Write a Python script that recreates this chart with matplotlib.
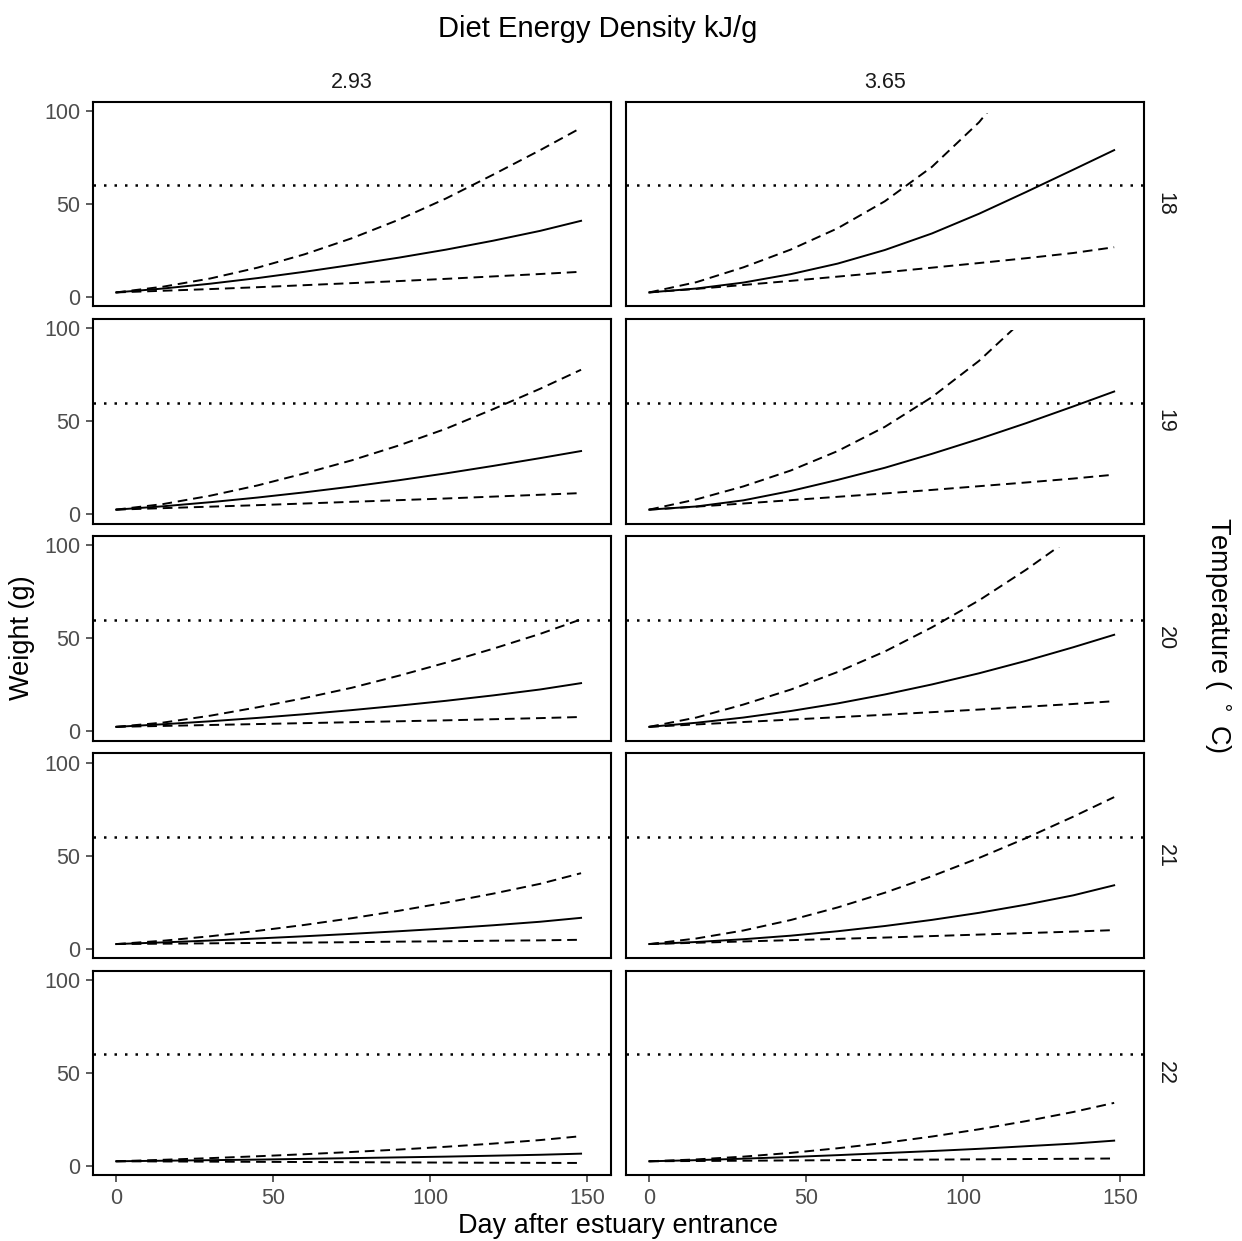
import matplotlib
matplotlib.use("Agg")
import matplotlib.pyplot as plt
from matplotlib.patches import Rectangle

plt.rcParams['font.family'] = ['Liberation Sans', 'DejaVu Sans']

# ---- data ----
days = [0, 15, 30, 45, 60, 75, 90, 105, 120, 135, 148]
temps = [18, 19, 20, 21, 22]
diets = ["2.93", "3.65"]
threshold = 60

# one list per temperature (18..22), diet 2.93 kJ/g
mid_293 = [
    [2.5, 4.6, 7.2, 10.2, 13.6, 17.3, 21.2, 25.5, 30.3, 35.6, 41.0],
    [2.5, 4.3, 6.5, 9.0, 11.8, 14.9, 18.3, 22.0, 26.0, 30.2, 34.0],
    [2.5, 3.9, 5.5, 7.3, 9.3, 11.5, 13.9, 16.5, 19.4, 22.6, 26.0],
    [2.5, 3.4, 4.4, 5.5, 6.7, 8.0, 9.4, 10.9, 12.6, 14.5, 16.6],
    [2.5, 2.8, 3.1, 3.4, 3.8, 4.2, 4.6, 5.0, 5.5, 6.0, 6.6],
]
hi_293 = [
    [2.5, 5.6, 10.0, 15.8, 23.0, 31.6, 41.6, 53.0, 65.8, 79.0, 91.0],
    [2.5, 5.5, 10.0, 15.5, 22.0, 29.0, 37.0, 46.0, 56.5, 67.5, 77.7],
    [2.5, 4.8, 8.5, 13.0, 18.0, 23.5, 30.0, 37.0, 44.5, 52.5, 60.3],
    [2.5, 4.3, 6.7, 9.6, 12.8, 16.4, 20.4, 24.8, 29.6, 34.9, 40.6],
    [2.5, 3.3, 4.2, 5.2, 6.3, 7.5, 8.8, 10.3, 12.0, 13.9, 16.0],
]
lo_293 = [
    [2.5, 3.4, 4.3, 5.3, 6.4, 7.5, 8.6, 9.8, 11.1, 12.4, 13.6],
    [2.5, 3.3, 4.1, 4.9, 5.8, 6.7, 7.6, 8.5, 9.5, 10.5, 11.4],
    [2.5, 3.0, 3.5, 4.0, 4.5, 5.0, 5.5, 6.0, 6.6, 7.2, 7.8],
    [2.5, 2.7, 2.9, 3.1, 3.3, 3.5, 3.8, 4.0, 4.3, 4.5, 4.8],
    [2.5, 2.4, 2.3, 2.2, 2.1, 2.0, 1.9, 1.8, 1.7, 1.65, 1.6],
]

# diet 3.65 kJ/g
mid_365 = [
    [2.5, 4.6, 7.8, 12.3, 18.0, 25.3, 34.2, 44.8, 56.5, 68.5, 79.0],
    [2.5, 4.2, 7.5, 12.5, 18.5, 25.0, 32.5, 40.5, 49.0, 58.0, 66.0],
    [2.5, 4.7, 7.5, 11.0, 15.1, 19.9, 25.3, 31.3, 38.0, 45.3, 52.0],
    [2.5, 3.6, 5.1, 7.0, 9.4, 12.2, 15.5, 19.3, 23.7, 28.7, 34.1],
    [2.5, 3.1, 3.9, 4.8, 5.8, 6.9, 8.0, 9.2, 10.6, 12.0, 13.6],
]
hi_365 = [
    [2.5, 8.0, 16.0, 25.5, 37.0, 51.5, 70.0, 94.0, 125.0, 156.0, 188.0],
    [2.5, 8.0, 15.0, 23.5, 34.0, 47.0, 63.0, 82.5, 106.0, 133.0, 160.0],
    [2.5, 7.5, 14.5, 22.5, 32.0, 43.0, 56.0, 70.5, 87.0, 105.0, 122.0],
    [2.5, 5.5, 9.8, 15.4, 22.2, 30.1, 39.0, 48.8, 59.5, 71.0, 81.5],
    [2.5, 3.5, 5.0, 7.0, 9.5, 12.4, 15.8, 19.7, 24.1, 29.0, 33.9],
]
lo_365 = [
    [2.5, 4.4, 6.5, 8.7, 11.0, 13.3, 15.8, 18.3, 20.9, 23.7, 26.8],
    [2.5, 4.1, 5.8, 7.6, 9.4, 11.2, 13.1, 15.1, 17.1, 19.2, 21.3],
    [2.5, 3.8, 5.1, 6.4, 7.7, 9.0, 10.4, 11.8, 13.3, 14.8, 16.3],
    [2.5, 3.2, 3.9, 4.6, 5.3, 6.0, 6.8, 7.6, 8.4, 9.2, 10.0],
    [2.5, 2.65, 2.8, 2.95, 3.1, 3.25, 3.4, 3.55, 3.7, 3.85, 4.0],
]

mid = [mid_293, mid_365]
hi = [hi_293, hi_365]
lo = [lo_293, lo_365]

# ---- figure ----
fig, axes = plt.subplots(5, 2, figsize=(12.42, 12.41), dpi=100,
                         sharex=True, sharey=True)
fig.subplots_adjust(left=0.0745, right=0.9211, top=0.918, bottom=0.053,
                    wspace=0.0284, hspace=0.0616)

lw = 1.4
dash = (0, (5, 3))
dots = (0, (1, 3.2))

for r, t in enumerate(temps):
    for c, d in enumerate(diets):
        ax = axes[r, c]
        ax.axhline(threshold, color='black', lw=1.8, linestyle=dots)
        ax.plot(days, mid[c][r], color='black', lw=lw)
        # values above 100 g are dropped in the original, so clip there
        clip = Rectangle((-10, -10), 180, 109, transform=ax.transData)
        for series in (hi[c][r], lo[c][r]):
            ln, = ax.plot(days, series, color='black', lw=lw, linestyle=dash)
            ln.set_clip_path(clip)

        ax.set_xlim(-7.5, 157.5)
        ax.set_ylim(-5, 105)
        ax.set_xticks([0, 50, 100, 150])
        ax.set_yticks([0, 50, 100])
        for s in ax.spines.values():
            s.set_linewidth(1.5)
            s.set_color('black')
        ax.tick_params(length=5, width=1.1, color='#333333',
                       labelcolor='#4D4D4D', labelsize=15.5, pad=4)
        if c == 1:
            ax.tick_params(left=False)
        if r < 4:
            ax.tick_params(bottom=False)

        if r == 0:
            ax.text(0.5, 1.045, d, transform=ax.transAxes, ha='center',
                    va='bottom', fontsize=15.5, color='#1A1A1A')
        if c == 1:
            ax.text(1.0405, 0.5, str(t), transform=ax.transAxes, ha='center',
                    va='center', rotation=270, fontsize=15.5, color='#1A1A1A')

fig.text(0.4815, 0.977, "Diet Energy Density kJ/g", ha='center', va='center',
         fontsize=21)
fig.text(0.4975, 0.0121, "Day after estuary entrance", ha='center',
         va='center', fontsize=19.5)
fig.text(0.007, 0.486, "Weight (g)", ha='left', va='center', rotation=90,
         fontsize=19.5)
fig.text(0.993, 0.488, "Temperature ( $^\\circ$ C)", ha='right', va='center',
         rotation=270, fontsize=19.5)

fig.savefig("out.png", dpi=100)
